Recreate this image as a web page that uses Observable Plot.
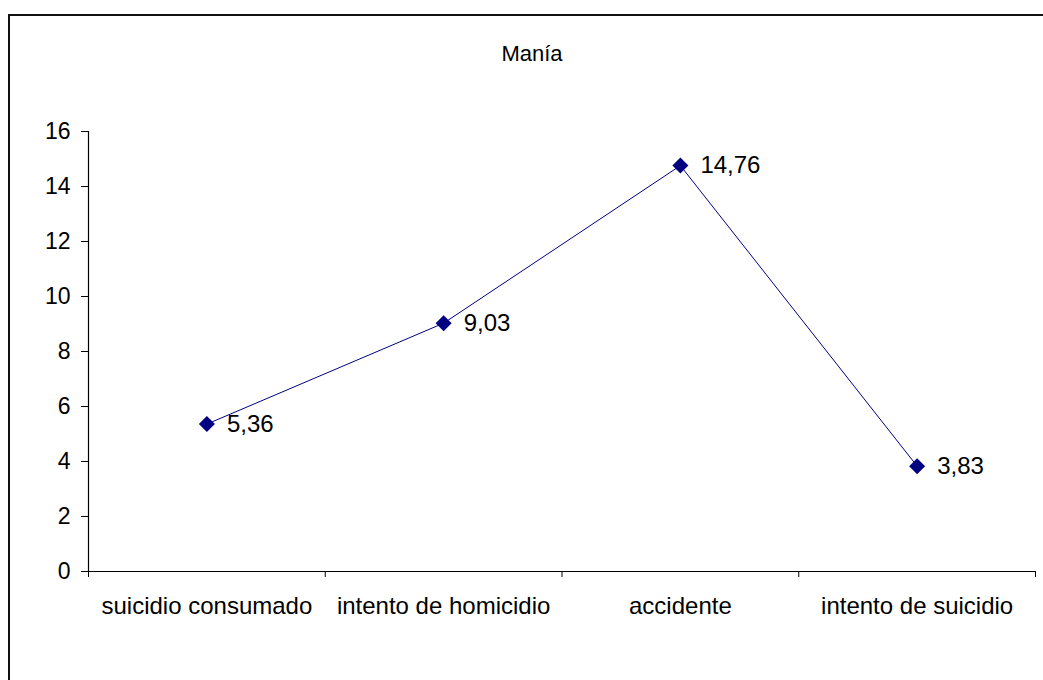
<!DOCTYPE html>
<html>
<head>
<meta charset="utf-8">
<script src="https://cdn.jsdelivr.net/npm/d3@7"></script>
<script src="https://cdn.jsdelivr.net/npm/@observablehq/plot@0.6"></script>
<style>
  html, body { margin: 0; padding: 0; background: #fff; overflow: hidden; }
  #wrap { position: relative; width: 1043px; height: 680px; }
  #border { position: absolute; left: 8px; top: 14px; width: 1100px; height: 700px; border: 2px solid #111; box-sizing: border-box; }
  #chart { position: absolute; left: 0; top: 0; }
</style>
</head>
<body>
<div id="wrap"><div id="border"></div><div id="chart"></div></div>
<script>
const title = "Manía";
const categories = ["suicidio consumado", "intento de homicidio", "accidente", "intento de suicidio"];
const values = [5.36, 9.03, 14.76, 3.83];
const yTicks = [0, 2, 4, 6, 8, 10, 12, 14, 16];

const data = categories.map((c, i) => ({cat: c, idx: i + 0.5, value: values[i], label: values[i].toFixed(2).replace(".", ",")}));
const navy = "#000080";

const plot = Plot.plot({
  width: 1043,
  height: 680,
  marginLeft: 88,
  marginRight: 8,
  marginTop: 131,
  marginBottom: 109,
  style: {fontFamily: "'Liberation Sans', Arial, sans-serif", fontSize: "23px", background: "transparent", color: "#000"},
  x: {domain: [0, categories.length]},
  y: {domain: [0, 16]},
  marks: [
    Plot.axisY({ticks: yTicks, tickSize: 7, tickPadding: 11, label: null, fontSize: 23}),
    Plot.axisX({ticks: d3.range(categories.length + 1), tickSize: 6, tickFormat: () => "", label: null}),
    Plot.ruleX([0], {y1: 0, y2: 16, stroke: "#000", strokeWidth: 1.2}),
    Plot.ruleY([0], {stroke: "#000", strokeWidth: 1.2}),
    Plot.line(data, {x: "idx", y: "value", stroke: navy, strokeWidth: 1}),
    Plot.dot(data, {x: "idx", y: "value", symbol: "diamond2", r: 7.2, fill: navy, stroke: null}),
    Plot.text(data, {x: "idx", y: "value", text: "label", textAnchor: "start", dx: 20, fontSize: 24, fill: "#000"}),
    Plot.text(data, {x: "idx", y: 0, text: "cat", dy: 35, fontSize: 24, fill: "#000"}),
    Plot.text([title], {frameAnchor: "top", dx: -30, dy: -86, fontSize: 22, fill: "#000"})
  ]
});
document.getElementById("chart").appendChild(plot);
</script>
</body>
</html>
